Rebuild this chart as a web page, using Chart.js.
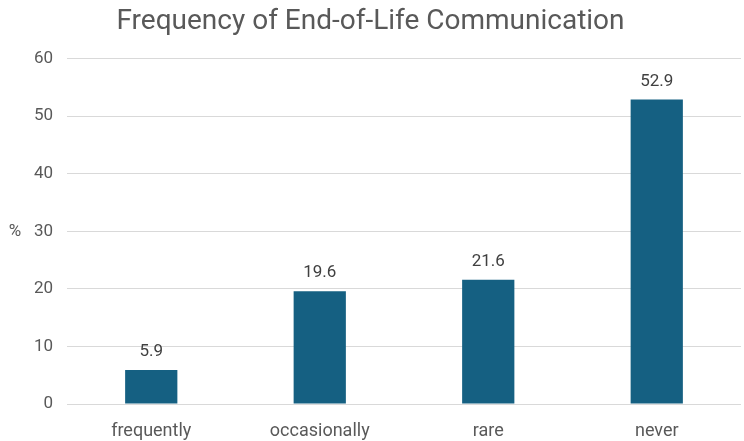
<!DOCTYPE html>
<html>
<head>
<meta charset="utf-8">
<script src="https://cdn.jsdelivr.net/npm/chart.js@4/dist/chart.umd.min.js"></script>
<style>
  html, body { margin: 0; padding: 0; background: #fff; }
  #wrap { width: 744px; height: 441px; }
</style>
</head>
<body>
<div id="wrap"><canvas id="chart"></canvas></div>
<script>
// data
const categories = ['frequently', 'occasionally', 'rare', 'never'];
const percentValues = [5.9, 19.6, 21.6, 52.9];
const yTicks = [0, 10, 20, 30, 40, 50, 60];

const FONT = "Roboto, 'Liberation Sans', sans-serif";

// value labels above each bar + horizontal "%" axis title
const barLabels = {
    id: 'barLabels',
    afterDatasetsDraw(chart) {
        const ctx = chart.ctx;
        const meta = chart.getDatasetMeta(0);
        ctx.save();
        ctx.font = '17px ' + FONT;
        ctx.fillStyle = '#404040';
        ctx.textAlign = 'center';
        ctx.textBaseline = 'middle';
        meta.data.forEach((bar, i) => {
            ctx.fillText(percentValues[i].toFixed(1), bar.x, bar.y - 18);
        });
        // y axis title, not rotated
        const area = chart.chartArea;
        ctx.fillStyle = '#595959';
        ctx.fillText('%', 15, (area.top + area.bottom) / 2);
        ctx.restore();
    }
};

function init() {
    const ctx = document.getElementById('chart').getContext('2d');
    new Chart(ctx, {
        type: 'bar',
        data: {
            labels: categories,
            datasets: [{
                data: percentValues,
                backgroundColor: '#156082',
                categoryPercentage: 1,
                barPercentage: 0.31
            }]
        },
        options: {
            responsive: true,
            maintainAspectRatio: false,
            animation: false,
            layout: { padding: { left: 0, right: 3, top: 0, bottom: 0 } },
            plugins: {
                legend: { display: false },
                tooltip: { enabled: false },
                title: {
                    display: true,
                    text: 'Frequency of End-of-Life Communication',
                    color: '#595959',
                    font: { family: FONT, size: 28, weight: 'normal' },
                    padding: { top: 5, bottom: 20 }
                }
            },
            scales: {
                x: {
                    grid: { display: false },
                    border: { display: false },
                    afterFit(axis) { axis.height = 37; },
                    ticks: {
                        color: '#595959',
                        font: { family: FONT, size: 18 },
                        padding: 9
                    }
                },
                y: {
                    min: 0,
                    max: 60,
                    afterBuildTicks(axis) {
                        axis.ticks = yTicks.map(v => ({ value: v }));
                    },
                    afterFit(axis) { axis.width = 67; },
                    grid: { color: '#d9d9d9', lineWidth: 1, drawTicks: false },
                    border: { display: false },
                    ticks: {
                        color: '#595959',
                        font: { family: FONT, size: 17 },
                        padding: 14
                    }
                }
            }
        },
        plugins: [barLabels]
    });
}

document.addEventListener('DOMContentLoaded', init);
</script>
</body>
</html>
